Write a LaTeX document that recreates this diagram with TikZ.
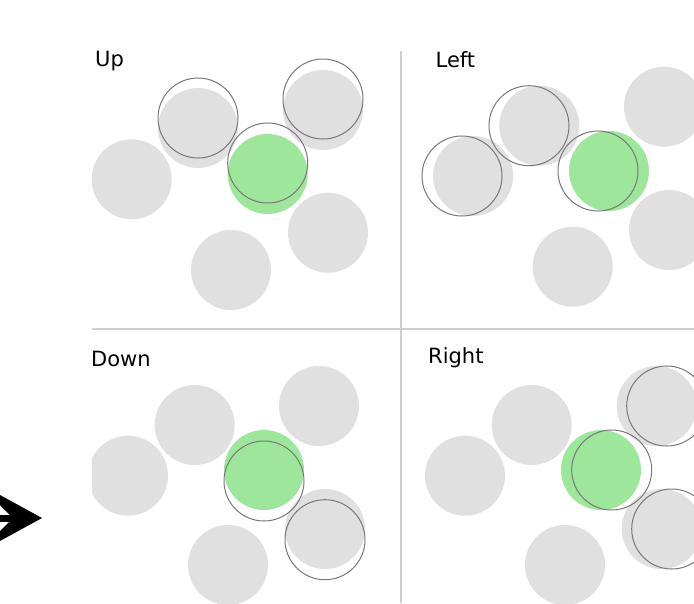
\documentclass[tikz,border=0pt]{standalone}
\usepackage{fontspec}
\setmainfont{DejaVu Sans}
\usetikzlibrary{arrows.meta}

\definecolor{ballgray}{RGB}{224,224,224}
\definecolor{ballgreen}{RGB}{157,230,155}
\definecolor{ghostline}{RGB}{120,120,120}
\definecolor{divline}{RGB}{206,206,206}

\begin{document}
\begin{tikzpicture}[
  x=1pt, y=-1pt,
  ball/.style={circle, fill=ballgray, minimum size=80pt, inner sep=0pt},
  active/.style={ball, fill=ballgreen},
  ghost/.style={circle, draw=ghostline, line width=1pt, minimum size=80pt, inner sep=0pt},
  divider/.style={draw=divline, line width=1.4pt},
  title/.style={anchor=base west, inner sep=0pt, font=\fontsize{21}{25}\selectfont},
  pointer/.style={line width=7pt, -{Stealth[length=64pt, width=70pt, inset=35pt, line width=0pt]}}
]
  \useasboundingbox (0,0) rectangle (694,603);

  % panel dividers
  \draw[divider] (401,51) -- (401,603);
  \draw[divider] (92,329) -- (694,329);

  \begin{scope}
    \clip (92,0) rectangle (694,603);

    % Up
    \node[ball] (upA) at (131.7,179.3) {};
    \node[ball] (upB) at (198,128) {};
    \node[ball] (upC) at (323,110) {};
    \node[ball] (upD) at (328,232.7) {};
    \node[ball] (upE) at (231,270) {};
    \node[active] (upX) at (267.7,174) {};
    \node[ghost] (upBg) at (198,118) {};
    \node[ghost] (upCg) at (323,99) {};
    \node[ghost] (upXg) at (267.7,163) {};

    % Left
    \node[ball] (leftA) at (473,176) {};
    \node[ball] (leftB) at (539.3,125.7) {};
    \node[ball] (leftC) at (664,106.7) {};
    \node[ball] (leftD) at (669,230) {};
    \node[ball] (leftE) at (572.7,266.7) {};
    \node[active] (leftX) at (609,171) {};
    \node[ghost] (leftAg) at (462,176) {};
    \node[ghost] (leftBg) at (529,125.7) {};
    \node[ghost] (leftXg) at (598,171) {};

    % Down
    \node[ball] (downA) at (128,475.7) {};
    \node[ball] (downB) at (194.7,425) {};
    \node[ball] (downC) at (319,406) {};
    \node[ball] (downD) at (325,529) {};
    \node[ball] (downE) at (228,565) {};
    \node[active] (downX) at (264,470) {};
    \node[ghost] (downDg) at (325,539.7) {};
    \node[ghost] (downXg) at (264,481) {};

    % Right
    \node[ball] (rightA) at (465,475.7) {};
    \node[ball] (rightB) at (531.7,425) {};
    \node[ball] (rightC) at (656.7,406) {};
    \node[ball] (rightD) at (661.7,529) {};
    \node[ball] (rightE) at (565,565) {};
    \node[active] (rightX) at (601,470) {};
    \node[ghost] (rightCg) at (666.7,406) {};
    \node[ghost] (rightDg) at (671.7,529) {};
    \node[ghost] (rightXg) at (611.7,470) {};
  \end{scope}

  \node[title] (upLbl) at (95,66.5) {Up};
  \node[title] (leftLbl) at (435.5,67) {Left};
  \node[title] (downLbl) at (91,366.5) {Down};
  \node[title] (rightLbl) at (428,363.5) {Right};

  \begin{scope}
    \clip (0,0) rectangle (694,603);
    \coordinate (tail) at (-40,518);
    \coordinate (tip) at (42,518);
    \draw[pointer] (tail) -- (tip);
  \end{scope}
\end{tikzpicture}
\end{document}
